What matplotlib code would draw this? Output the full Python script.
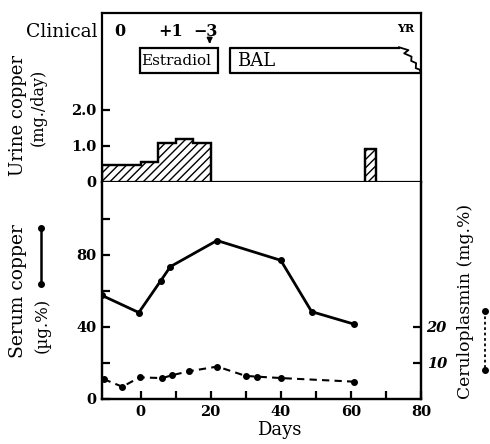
import matplotlib
matplotlib.use("Agg")
import matplotlib.pyplot as plt
from matplotlib.lines import Line2D
from matplotlib.patches import Rectangle

plt.rcParams['font.family'] = ['DejaVu Serif']
plt.rcParams['hatch.linewidth'] = 1.0

# ---- data ----
# urine copper, bar edges (days) and heights (mg/day)
urine_edges = [-11, 0, 5, 10, 15, 20]
urine_vals = [0.46, 0.56, 1.07, 1.18, 1.09]
urine_spike_edges = [64, 67.3]
urine_spike_vals = [0.91]

# serum copper (ug %)
serum_days = [-11, -0.5, 5.7, 8.5, 21.8, 40, 48.8, 61]
serum_vals = [57.5, 48, 65.5, 73.5, 88, 77, 48.5, 41.5]

# ceruloplasmin (mg %)
cerulo_days = [-10.5, -5.2, -0.3, 6.2, 9, 13.8, 21.9, 30, 33.3, 40.2, 61]
cerulo_vals = [5.5, 3.4, 6.0, 5.8, 6.6, 7.7, 9.0, 6.4, 6.2, 5.8, 4.8]

# clinical scores along the top
clinical_days = [-6, 8.6, 18.6]
clinical_labels = ["0", "+1", "\u22123"]

# treatment periods
estradiol_span = (-0.2, 22)
bal_span = (25.5, 80)

xlim = (-11, 80)

fig = plt.figure(figsize=(4.9, 4.44), dpi=100)
ax_top = fig.add_axes([0.2082, 0.5901, 0.6510, 0.3806])
ax = fig.add_axes([0.2082, 0.1014, 0.6510, 0.4887])
ax2 = ax.twinx()

lw = 1.6

# ---- upper panel: urine copper + treatments ----
ax_top.stairs(urine_vals, urine_edges, baseline=0, fill=True, facecolor='white',
              edgecolor='black', hatch='////', linewidth=lw)
ax_top.stairs(urine_vals, urine_edges, baseline=0, color='black', linewidth=lw)
ax_top.stairs(urine_spike_vals, urine_spike_edges, baseline=0, fill=True, facecolor='white',
              edgecolor='black', hatch='////', linewidth=lw)
ax_top.stairs(urine_spike_vals, urine_spike_edges, baseline=0, color='black', linewidth=lw)

ax_top.set_xlim(*xlim)
ax_top.set_ylim(0, 4.69)
ax_top.set_xticks([])
ax_top.set_yticks([0, 1, 2])
ax_top.set_yticklabels(["0", "1.0", "2.0"], fontweight='bold', fontsize=10.5)
ax_top.tick_params(axis='y', direction='in', length=6, width=lw, pad=4)
for s in ax_top.spines.values():
    s.set_linewidth(lw)

# treatment boxes
ax_top.add_patch(Rectangle((estradiol_span[0], 3.02), estradiol_span[1] - estradiol_span[0], 0.71,
                           facecolor='white', edgecolor='black', linewidth=lw, clip_on=False))
ax_top.text(estradiol_span[0] + 0.5, 3.37, "Estradiol", fontsize=11, va='center', ha='left')
# BAL box: open right end with a zig-zag (treatment continues)
ax_top.plot([73.7, bal_span[0], bal_span[0], bal_span[1]], [3.73, 3.73, 3.02, 3.02],
            color='black', linewidth=lw)
ax_top.plot([73.7, 76.4, 75.2, 77.3, 77.2, 78.6, 78.5, 79.6, 80],
            [3.74, 3.66, 3.57, 3.48, 3.36, 3.30, 3.16, 3.12, 3.02],
            color='black', linewidth=1.3, clip_on=False)
ax_top.text(bal_span[0] + 2.0, 3.37, "BAL", fontsize=13, va='center', ha='left')

# clinical row
for d, lab in zip(clinical_days, clinical_labels):
    ax_top.text(d, 4.18, lab, fontsize=11.5, ha='center', va='center', fontweight='bold')
ax_top.text(75.6, 4.25, "YR", fontsize=8, ha='center', va='center', fontweight='bold')
ax_top.annotate("", xy=(19.7, 3.76), xytext=(19.7, 4.0),
                arrowprops=dict(arrowstyle='-|>', color='black', lw=1.2, mutation_scale=8))
fig.text(0.198, 0.928, "Clinical", fontsize=13.5, ha='right', va='center')

# ---- lower panel: serum copper + ceruloplasmin ----
ax.plot(serum_days, serum_vals, color='black', linewidth=2, marker='o', markersize=4)
ax2.plot(cerulo_days, cerulo_vals, color='black', linewidth=1.5, linestyle=(0, (3.5, 2.5)),
         marker='o', markersize=4)

ax.set_xlim(*xlim)
ax.set_ylim(0, 120.5)
ax2.set_ylim(0, 60.25)
ax.set_xticks(range(0, 81, 10))
ax.set_xticklabels(["0", "", "20", "", "40", "", "60", "", "80"], fontweight='bold', fontsize=10.5)
ax.set_yticks(range(0, 101, 20))
ax.set_yticklabels(["0", "", "40", "", "80", ""], fontweight='bold', fontsize=10.5)
ax2.set_yticks([10, 20])
ax2.set_yticklabels(["10", "20"], fontstyle='italic', fontweight='bold', fontsize=10.5)
ax.tick_params(axis='both', direction='in', length=6, width=lw, pad=4)
ax2.tick_params(axis='y', direction='in', length=6, width=lw, pad=4)
ax.spines['top'].set_visible(False)
ax2.spines['top'].set_visible(False)
for s in list(ax.spines.values()) + list(ax2.spines.values()):
    s.set_linewidth(lw)

fig.text(0.57, 0.012, "Days", fontsize=13, ha='center', va='bottom')

# axis titles
fig.text(0.037, 0.739, "Urine copper", rotation=90, fontsize=13, ha='center', va='center')
fig.text(0.078, 0.758, "(mg./day)", rotation=90, fontsize=11.5, ha='center', va='center')
fig.text(0.037, 0.345, "Serum copper", rotation=90, fontsize=13.5, ha='center', va='center')
fig.text(0.086, 0.268, "(\u00b5g.%)", rotation=90, fontsize=12, ha='center', va='center')
fig.text(0.949, 0.32, "Ceruloplasmin (mg.%)", rotation=90, fontsize=12.3, ha='center', va='center')

# legend glyphs beside the axis titles
fig.add_artist(Line2D([0.084, 0.084], [0.487, 0.36], color='black', linewidth=1.8,
                      marker='o', markersize=4, transform=fig.transFigure))
fig.add_artist(Line2D([0.99, 0.99], [0.30, 0.167], color='black', linewidth=1.3,
                      linestyle=(0, (1.5, 1.5)), marker='o', markersize=4,
                      transform=fig.transFigure))

fig.savefig("out.png", dpi=100)
